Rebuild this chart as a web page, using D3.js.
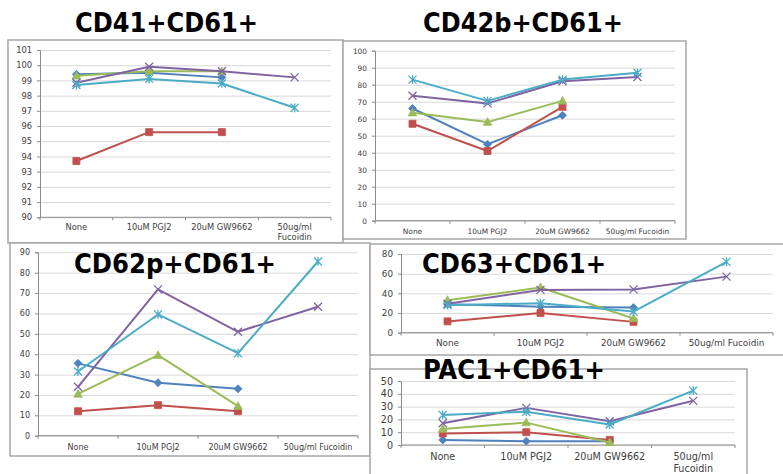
<!DOCTYPE html>
<html>
<head>
<meta charset="utf-8">
<script src="https://cdn.jsdelivr.net/npm/d3@7"></script>
<style>
  html, body { margin: 0; padding: 0; background: #fff; }
  svg { display: block; }
</style>
</head>
<body>
<svg id="chart" width="783" height="474"></svg>
<script>
// ---------- DATA ----------
const categories = ["None", "10uM PGJ2", "20uM GW9662", "50ug/ml Fucoidin"];
const seriesNames = ["blue", "red", "green", "purple", "cyan"];
const seriesColors = ["#4F81BD", "#C0504D", "#9BBB59", "#8064A2", "#4BACC6"];
const seriesMarkers = ["diamond", "square", "triangle", "x", "star"];

// each row: [None, 10uM PGJ2, 20uM GW9662, 50ug/ml Fucoidin]  (null = no value)
const cd41Values = [
  [99.4, 99.5, 99.2, null],
  [93.7, 95.6, 95.6, null],
  [99.3, 99.6, 99.6, null],
  [98.85, 99.9, 99.6, 99.2],
  [98.7, 99.1, 98.8, 97.2]
];
const cd42bValues = [
  [66, 45, 62, null],
  [57, 41, 67, null],
  [63.5, 58, 70.5, null],
  [73.5, 69, 82, 84.5],
  [83, 70.5, 83, 87]
];
const cd62pValues = [
  [35.5, 26, 23, null],
  [12, 15, 12, null],
  [20.5, 39.5, 14.5, null],
  [24, 71.8, 51, 63.3],
  [31.5, 59.5, 40.5, 85.5]
];
const cd63Values = [
  [29, 26.5, 25.5, null],
  [11.5, 20, 11, null],
  [33, 46, 14.5, null],
  [29.5, 43.5, 44, 57],
  [28, 30, 21.5, 72]
];
const pac1Values = [
  [4, 3, 3, null],
  [9, 10, 4, null],
  [12.5, 17.5, 2, null],
  [17, 29, 18.5, 34.5],
  [23.5, 26, 16, 42.5]
];

const titles = ["CD41+CD61+", "CD42b+CD61+", "CD62p+CD61+", "CD63+CD61+", "PAC1+CD61+"];
const cd41Ticks = [90, 91, 92, 93, 94, 95, 96, 97, 98, 99, 100, 101];
const cd42bTicks = [0, 10, 20, 30, 40, 50, 60, 70, 80, 90, 100];
const cd62pTicks = [0, 10, 20, 30, 40, 50, 60, 70, 80, 90];
const cd63Ticks = [0, 20, 40, 60, 80];
const pac1Ticks = [0, 10, 20, 30, 40, 50];

// ---------- LAYOUT ----------
const panels = [
  { values: cd41Values, ticks: cd41Ticks, frame: [8, 40, 343, 243], plot: { l: 40, r: 331, t: 50, b: 217.3 }, fs: 8.3, wrap: true, labelY: 227 },
  { values: cd42bValues, ticks: cd42bTicks, frame: [343, 41, 686, 239], plot: { l: 375, r: 675, t: 50.7, b: 220.7 }, fs: 7.4, wrap: false, labelY: 231 },
  { values: cd62pValues, ticks: cd62pTicks, frame: [10, 243, 370, 456], plot: { l: 38, r: 358, t: 252.3, b: 435.7 }, fs: 8.0, wrap: false, labelY: 447 },
  { values: cd63Values, ticks: cd63Ticks, frame: [370, 244, 790, 355], plot: { l: 401, r: 773, t: 254, b: 332.7 }, fs: 8.8, wrap: false, labelY: 343 },
  { values: pac1Values, ticks: pac1Ticks, frame: [370, 369, 747, 482], plot: { l: 401, r: 735, t: 381, b: 445 }, fs: 9.6, wrap: true, labelY: 457 }
];
const titlePos = [
  { x: 75, y: 32, w: 183 },
  { x: 423, y: 32, w: 200 },
  { x: 74, y: 273, w: 202 },
  { x: 422, y: 273, w: 184 },
  { x: 423, y: 379, w: 182 }
];

const svg = d3.select("#chart");
const FONT = "'DejaVu Sans', Verdana, sans-serif";

function markerPath(type, s) {
  const h = s / 2;
  switch (type) {
    case "diamond": return `M0,${-h}L${h},0L0,${h}L${-h},0Z`;
    case "square": return `M${-h},${-h}H${h}V${h}H${-h}Z`;
    case "triangle": return `M0,${-h * 1.1}L${h * 1.05},${h * 0.8}L${-h * 1.05},${h * 0.8}Z`;
    case "x": return `M${-h},${-h}L${h},${h}M${h},${-h}L${-h},${h}`;
    case "star": return `M${-h},${-h}L${h},${h}M${h},${-h}L${-h},${h}M0,${-h * 1.1}V${h * 1.1}`;
  }
}

panels.forEach((p, pi) => {
  const g = svg.append("g");
  const [fx0, fy0, fx1, fy1] = p.frame;
  g.append("rect")
    .attr("x", fx0).attr("y", fy0).attr("width", fx1 - fx0).attr("height", fy1 - fy0)
    .attr("fill", "#fff").attr("stroke", "#a6a6a6").attr("stroke-width", 1.5);

  const { l, r, t, b } = p.plot;
  const y = d3.scaleLinear().domain([p.ticks[0], p.ticks[p.ticks.length - 1]]).range([b, t]);
  const x = d3.scaleBand().domain(categories).range([l, r]);

  // gridlines
  const grid = g.append("g").attr("transform", `translate(${l},0)`)
    .call(d3.axisLeft(y).tickValues(p.ticks).tickSize(-(r - l)).tickFormat(""));
  grid.select(".domain").remove();
  grid.selectAll("line").attr("stroke", "#d9d9d9").attr("stroke-width", 1);

  // y axis
  const ya = g.append("g").attr("transform", `translate(${l},0)`)
    .call(d3.axisLeft(y).tickValues(p.ticks).tickSize(3).tickPadding(5));
  ya.select(".domain").attr("stroke", "#8c8c8c");
  ya.selectAll("line").attr("stroke", "#8c8c8c");
  ya.selectAll("text").attr("fill", "#404040").attr("font-family", FONT).attr("font-size", p.fs);

  // x axis (category boundaries as ticks)
  const xa = g.append("g").attr("transform", `translate(0,${b})`);
  xa.append("line").attr("x1", l).attr("x2", r).attr("y1", 0).attr("y2", 0).attr("stroke", "#8c8c8c");
  const bounds = categories.map(c => x(c)).concat([x(categories[categories.length - 1]) + x.bandwidth()]);
  xa.selectAll("line.tk").data(bounds).enter().append("line").attr("class", "tk")
    .attr("x1", d => d).attr("x2", d => d).attr("y1", 0).attr("y2", 3).attr("stroke", "#8c8c8c");

  categories.forEach((c, ci) => {
    const cx = x(c) + x.bandwidth() / 2;
    let lines = [c];
    if (p.wrap && ci === 3) lines = ["50ug/ml", "Fucoidin"];
    lines.forEach((ln, li) => {
      g.append("text").attr("x", cx).attr("y", p.labelY + li * p.fs * 1.25)
        .attr("dy", "0.35em").attr("text-anchor", "middle")
        .attr("font-family", FONT).attr("font-size", p.fs).attr("fill", "#404040")
        .text(ln);
    });
  });

  // series
  p.values.forEach((vals, si) => {
    const pts = vals.map((v, i) => ({ c: categories[i], v })).filter(d => d.v !== null);
    const line = d3.line().x(d => x(d.c) + x.bandwidth() / 2).y(d => y(d.v));
    g.append("path").attr("d", line(pts)).attr("fill", "none")
      .attr("stroke", seriesColors[si]).attr("stroke-width", 2).attr("stroke-linejoin", "round");
    const mk = seriesMarkers[si];
    g.selectAll(null).data(pts).enter().append("path")
      .attr("transform", d => `translate(${x(d.c) + x.bandwidth() / 2},${y(d.v)})`)
      .attr("d", markerPath(mk, mk === "square" ? 7 : 8))
      .attr("fill", (mk === "x" || mk === "star") ? "none" : seriesColors[si])
      .attr("stroke", seriesColors[si]).attr("stroke-width", (mk === "x" || mk === "star") ? 1.3 : 0.8);
  });
});

// titles on top
titles.forEach((tt, i) => {
  const tp = titlePos[i];
  svg.append("text").attr("x", tp.x).attr("y", tp.y)
    .attr("font-family", "'DejaVu Sans Condensed', 'DejaVu Sans', sans-serif")
    .attr("font-stretch", "condensed")
    .attr("font-weight", "bold").attr("font-size", 26).attr("fill", "#000")
    .attr("textLength", tp.w).attr("lengthAdjust", "spacingAndGlyphs")
    .text(tt);
});
</script>
</body>
</html>
